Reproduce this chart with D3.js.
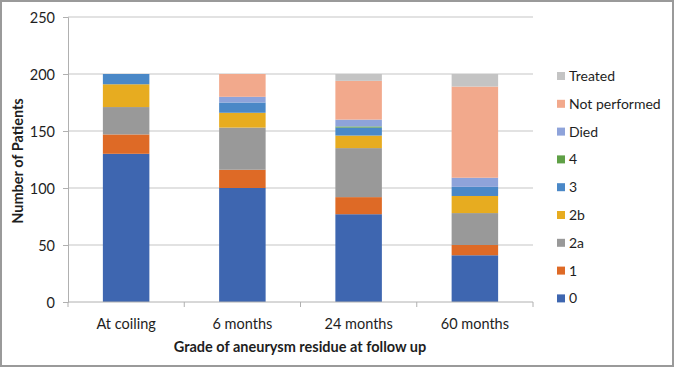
<!DOCTYPE html>
<html>
<head>
<meta charset="utf-8">
<script src="https://cdn.jsdelivr.net/npm/d3@7"></script>
<style>
  body { margin: 0; background: #fff; }
  svg text { font-family: Lato, "Open Sans", sans-serif; fill: #1e1e1e; }
</style>
</head>
<body>
<div id="chart"></div>
<script>
// Data
const periods = ["At coiling", "6 months", "24 months", "60 months"];
const grades = ["0", "1", "2a", "2b", "3", "4", "Died", "Not performed", "Treated"];
const grade0 = [130, 100, 77, 41];
const grade1 = [17, 16, 15, 9];
const grade2a = [24, 37, 43, 28];
const grade2b = [20, 13, 11, 15];
const grade3 = [9, 9, 7, 8];
const grade4 = [0, 0, 1, 0];
const died = [0, 5, 6, 8];
const notPerformed = [0, 20, 34, 80];
const treated = [0, 0, 6, 11];
const yTicks = [0, 50, 100, 150, 200, 250];

const colors = ["#3E66B0", "#DE6A26", "#999999", "#E7AC20", "#4A88C7", "#5FA046", "#8EA3DA", "#F2A98C", "#C4C4C4"];

const series = [grade0, grade1, grade2a, grade2b, grade3, grade4, died, notPerformed, treated];
const rows = periods.map((p, i) => {
    const row = { period: p };
    grades.forEach((g, j) => row[g] = series[j][i]);
    return row;
});

// sizes
const w = 674;
const h = 367;
const pLeft = 68, pRight = 533, pTop = 17, pBottom = 302;

const svg = d3.select("#chart").append("svg")
              .attr("width", w)
              .attr("height", h);

// image frame
svg.append("rect")
   .attr("x", 1).attr("y", 1)
   .attr("width", w - 2).attr("height", h - 2)
   .attr("fill", "none")
   .attr("stroke", "#9a9a9a")
   .attr("stroke-width", 2);

const xScale = d3.scaleBand()
                 .domain(periods)
                 .range([pLeft, pRight])
                 .paddingInner(0.6)
                 .paddingOuter(0.3);
const xBand = d3.scaleBand().domain(periods).range([pLeft, pRight]);
const yScale = d3.scaleLinear()
                 .domain([0, 250])
                 .range([pBottom, pTop]);

// gridlines
svg.append("g")
   .selectAll("line")
   .data(yTicks.filter(d => d > 0))
   .enter()
   .append("line")
   .attr("x1", pLeft)
   .attr("x2", pRight)
   .attr("y1", d => yScale(d))
   .attr("y2", d => yScale(d))
   .attr("stroke", "#c6c6c6")
   .attr("stroke-width", 1.2);

// stacked bars
const stacked = d3.stack().keys(grades)(rows);
svg.append("g")
   .selectAll("g")
   .data(stacked)
   .enter()
   .append("g")
   .attr("fill", (d, i) => colors[i])
   .selectAll("rect")
   .data(d => d)
   .enter()
   .append("rect")
   .attr("x", d => xScale(d.data.period))
   .attr("width", xScale.bandwidth())
   .attr("y", d => yScale(d[1]))
   .attr("height", d => yScale(d[0]) - yScale(d[1]));

// y axis
const yAxis = svg.append("g")
   .attr("transform", "translate(" + pLeft + ",0)")
   .call(d3.axisLeft(yScale).tickValues(yTicks).tickSize(5).tickPadding(8));
yAxis.select(".domain").attr("stroke", "#b0b0b0");
yAxis.selectAll(".tick line").attr("stroke", "#b0b0b0");
yAxis.selectAll(".tick text").style("font-size", "14.5px").attr("dy", "0.35em");

// x axis with ticks at band edges
const xAxisG = svg.append("g")
   .attr("transform", "translate(0," + pBottom + ")");
xAxisG.append("line")
   .attr("x1", pLeft).attr("x2", pRight)
   .attr("stroke", "#b0b0b0");
xAxisG.selectAll(".edge")
   .data(periods.map(p => xBand(p)).concat([pRight]))
   .enter()
   .append("line")
   .attr("x1", d => d).attr("x2", d => d)
   .attr("y1", 0).attr("y2", 5)
   .attr("stroke", "#b0b0b0");
xAxisG.selectAll("text")
   .data(periods)
   .enter()
   .append("text")
   .attr("x", d => xBand(d) + xBand.bandwidth() / 2)
   .attr("y", 27)
   .attr("text-anchor", "middle")
   .style("font-size", "14.5px")
   .text(d => d);

// axis titles
svg.append("text")
   .text("Grade of aneurysm residue at follow up")
   .attr("x", 300)
   .attr("y", 352)
   .attr("text-anchor", "middle")
   .style("font-size", "14.5px")
   .style("font-weight", "bold");
svg.append("text")
   .text("Number of Patients")
   .attr("transform", "translate(23,161) rotate(-90)")
   .attr("text-anchor", "middle")
   .style("font-size", "14.5px")
   .style("font-weight", "bold");

// legend, top entry is the last series
const legend = svg.append("g")
   .selectAll("g")
   .data(grades.slice().reverse())
   .enter()
   .append("g")
   .attr("transform", (d, i) => "translate(557," + (76 + i * 27.8) + ")");
legend.append("rect")
   .attr("x", 0).attr("y", -4)
   .attr("width", 8).attr("height", 8)
   .attr("fill", d => colors[grades.indexOf(d)]);
legend.append("text")
   .attr("x", 12)
   .attr("dy", "0.35em")
   .style("font-size", "14px")
   .text(d => d);
</script>
</body>
</html>
